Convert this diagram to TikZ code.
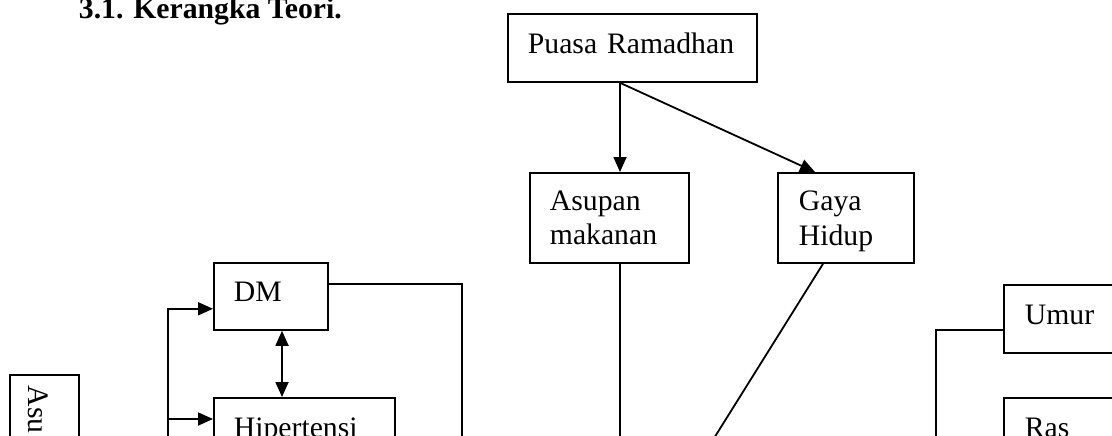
\documentclass[tikz,border=0pt]{standalone}
\usepackage{fontspec}
\setmainfont{Liberation Serif}
\usetikzlibrary{arrows.meta,calc}
\begin{document}
\begin{tikzpicture}[x=1pt,y=-1pt,line width=1.8pt,
  every node/.style={font=\fontsize{29.7pt}{34.5pt}\selectfont,inner sep=0pt},
  box/.style={draw,line width=1.8pt,anchor=north west,align=left,inner xsep=20pt,inner ysep=0pt},
  oneline/.style={text height=20pt,text depth=9pt},
  arr/.style={-{Triangle[length=15pt,width=13pt]}},
  darr/.style={{Triangle[length=15pt,width=13pt]}-{Triangle[length=15pt,width=13pt]}}]
\useasboundingbox (0,0) rectangle (1112,436);
\clip (0,0) rectangle (1112,436);

\node[anchor=base west,font=\fontsize{29.7pt}{34.5pt}\selectfont\bfseries] (title) at (78,19) {3.1. Kerangka Teori.};

\node[box,oneline,minimum width=249pt,minimum height=68pt,text width=209pt] (puasa) at (507,13) {Puasa Ramadhan};
\node[box,minimum width=159pt,minimum height=90pt,text width=119pt] (asupan) at (529,172) {Asupan\\makanan};
\node[box,inner xsep=21pt,minimum width=136pt,minimum height=90pt,text width=94pt] (gaya) at (777,172) {\rule{0pt}{27pt}Gaya\\Hidup};
\node[box,oneline,minimum width=114pt,minimum height=67pt,text width=74pt] (dm) at (213,262) {DM};
\node[box,oneline,minimum width=181pt,minimum height=68pt,text width=141pt] (hiper) at (213,397) {Hipertensi};
\node[box,oneline,inner xsep=21pt,minimum width=150pt,minimum height=68pt,text width=108pt] (umur) at (1003,284) {Umur};
\node[box,oneline,inner xsep=21pt,minimum width=150pt,minimum height=68pt,text width=108pt] (ras) at (1003,397) {Ras};
\node[draw,anchor=north west,minimum width=69pt,minimum height=140pt] (asubox) at (9,374) {};
\node[rotate=-90,anchor=base west] (asu) at (28,385) {Asu};

% top connectors
\coordinate (ps) at ($(puasa.south west)+(113,0)$);
\draw[arr] (ps) -- (ps |- asupan.north);
\draw[arr] (ps) -- ($(gaya.north west)+(38,0)$);

% lines going down out of the picture
\coordinate (asend) at (620,480);
\draw (ps |- asupan.south) -- (asend);
\coordinate (gyend) at (691,475);
\draw ($(gaya.south west)+(46,0)$) -- (gyend);

% DM and Hipertensi
\coordinate (dmend) at (462,480);
\draw ($(dm.north east)+(0,22)$) -| (dmend);
\draw[darr] ($(dm.south west)+(69,0)$) -- ($(hiper.north west)+(69,0)$);
\coordinate (lb) at (168,480);
\coordinate (lbh) at (168,419);
\draw[arr] (lb) |- ($(dm.south west)+(0,-22)$);
\draw[arr] (lbh) -- ($(hiper.north west)+(0,22)$);

% Umur
\coordinate (umend) at (936,480);
\draw ($(umur.north west)+(0,46)$) -| (umend);
\end{tikzpicture}
\end{document}
